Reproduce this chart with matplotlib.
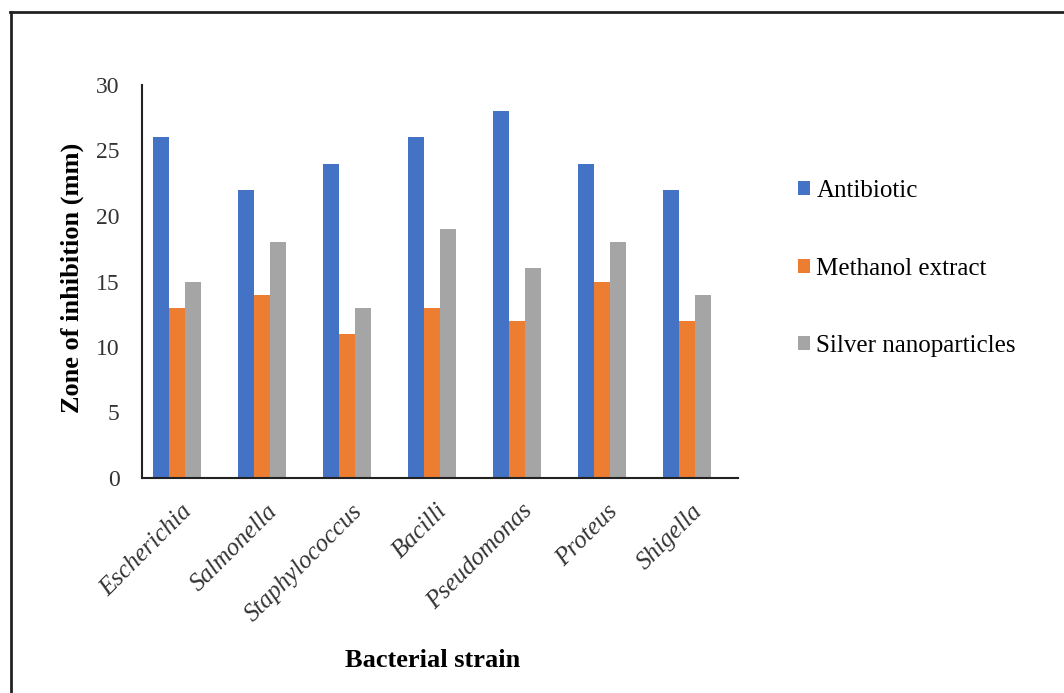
import numpy as np
import matplotlib.pyplot as plt
from matplotlib.lines import Line2D
from matplotlib.transforms import ScaledTranslation

# 抑菌圈数据 (mm)
strains = ['Escherichia', 'Salmonella', 'Staphylococcus', 'Bacilli', 'Pseudomonas', 'Proteus', 'Shigella']
antibiotic = [26, 22, 24, 26, 28, 24, 22]
methanol = [13, 14, 11, 13, 12, 15, 12]
silver = [15, 18, 13, 19, 16, 18, 14]
series_names = ['Antibiotic', 'Methanol extract', 'Silver nanoparticles']
colors = ['#4472C4', '#ED7D31', '#A5A5A5']

plt.rcParams['font.family'] = ['Liberation Serif', 'DejaVu Serif']

fig = plt.figure(figsize=(10.64, 6.93), dpi=100)
ax = fig.add_axes([142 / 1064, 1 - 478 / 693, 596 / 1064, 393 / 693])

x = np.arange(len(strains))
w = 0.188
for i, (vals, name, c) in enumerate(zip([antibiotic, methanol, silver], series_names, colors)):
    ax.bar(x + (i - 1) * w, vals, width=w, color=c, label=name, zorder=2)

ax.set_xlim(-0.412, 6.6)
ax.set_ylim(0, 30)
ax.set_yticks(range(0, 31, 5))
ax.tick_params(axis='y', length=0, pad=16, labelsize=17, colors='#333333')
ax.tick_params(axis='x', length=0, labelsize=18, colors='#333333')
ax.set_xticks(x)
ax.set_xticklabels(strains, rotation=45, ha='right', va='center', rotation_mode='anchor', style='italic')
# 把倾斜的类别标签往右下挪一点
off = ScaledTranslation(12 / 100, -25 / 100, fig.dpi_scale_trans)
for lab in ax.get_xticklabels():
    lab.set_transform(lab.get_transform() + off)

for s in ['top', 'right']:
    ax.spines[s].set_visible(False)
for s in ['left', 'bottom']:
    ax.spines[s].set_linewidth(1.5)
    ax.spines[s].set_color('#222222')

ax.set_ylabel('Zone of inhibition (mm)', fontsize=19, fontweight='bold')
ax.yaxis.set_label_coords(-0.098, 0.508)
ax.set_xlabel('Bacterial strain', fontsize=19, fontweight='bold')
ax.xaxis.set_label_coords(0.487, -0.435)

ax.legend(loc='upper left', bbox_to_anchor=(1.10, 0.758), frameon=False, fontsize=18,
          borderpad=0, borderaxespad=0,
          handlelength=0.5, handleheight=0.5, handletextpad=0.25, labelspacing=2.22)

# 外框
fig.add_artist(Line2D([10.5 / 1064, 10.5 / 1064], [0, 1 - 12 / 693], transform=fig.transFigure, color='#222222', lw=2))
fig.add_artist(Line2D([10 / 1064, 1], [1 - 12 / 693, 1 - 12 / 693], transform=fig.transFigure, color='#222222', lw=2))

fig.savefig('out.png', dpi=100)
